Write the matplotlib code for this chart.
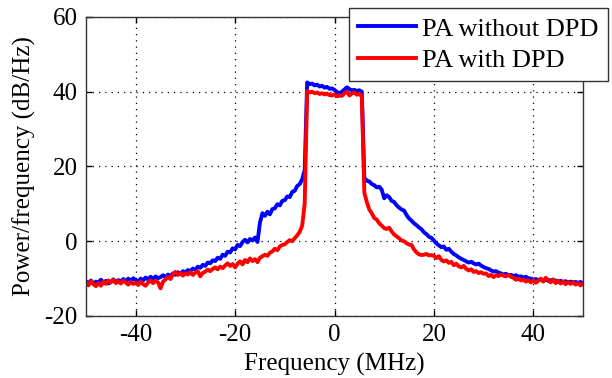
import numpy as np
import matplotlib
matplotlib.use("Agg")
import matplotlib.pyplot as plt

# Frequency grid (MHz), 0.5 MHz spacing
freq = [round(-50 + 0.5 * i, 1) for i in range(201)]

# PA without DPD (dB/Hz)
pa_without_dpd = [
    # -50 .. -40.5
    -10.7, -11.2, -10.5, -11.4, -10.8, -11.0, -10.3, -11.1, -10.6, -11.3,
    -10.9, -10.2, -11.0, -10.4, -10.8, -10.1, -10.7, -10.0, -10.6, -9.9,
    # -40 .. -30.5
    -10.4, -10.8, -10.0, -10.5, -9.7, -10.2, -9.5, -10.1, -9.4, -9.9,
    -9.6, -9.1, -9.6, -8.9, -9.3, -8.6, -9.0, -8.3, -8.7, -8.0,
    # -30 .. -20.5
    -8.4, -7.7, -8.0, -7.3, -7.6, -6.8, -7.1, -6.3, -6.6, -5.7,
    -5.9, -5.1, -5.3, -4.4, -4.7, -3.6, -3.9, -2.8, -3.0, -1.9,
    # -20 .. -10.5
    -2.2, -1.0, -1.3, -0.2, 0.4, -0.3, 0.6, 0.2, 1.0, -0.2,
    5.0, 7.5, 6.8, 7.9, 7.2, 8.6, 8.8, 9.9, 9.6, 10.8,
    # -10 .. -0.5
    11.0, 12.0, 11.8, 13.2, 13.5, 14.8, 15.3, 16.6, 19.0, 42.5,
    42.0, 42.2, 41.7, 41.9, 41.4, 41.6, 41.1, 41.3, 40.8, 40.9,
    # 0 .. 9.5
    40.5, 39.9, 39.6, 40.0, 40.6, 41.2, 40.7, 40.4, 40.5, 40.2,
    40.4, 40.0, 17.0, 16.2, 16.0, 15.3, 15.0, 14.4, 14.6, 13.8,
    # 10 .. 19.5
    11.5, 12.3, 11.8, 10.8, 10.5, 9.6, 9.0, 8.5, 8.2, 7.0,
    6.1, 5.5, 4.8, 4.3, 3.7, 3.2, 2.4, 1.9, 1.2, 0.9,
    # 20 .. 29.5
    0.2, -0.6, -1.1, -1.6, -1.4, -2.3, -2.0, -2.8, -3.4, -3.8,
    -4.3, -4.7, -5.0, -5.4, -5.7, -5.5, -5.9, -6.2, -6.0, -6.5,
    # 30 .. 39.5
    -6.9, -7.2, -7.4, -7.8, -8.1, -8.0, -8.4, -8.6, -8.9, -8.7,
    -9.1, -9.0, -9.3, -9.1, -9.5, -9.4, -9.7, -9.5, -9.9, -10.0,
    # 40 .. 50
    -10.3, -10.1, -10.4, -10.2, -10.5, -10.3, -10.6, -10.4, -10.7, -10.5,
    -10.8, -10.6, -10.9, -10.7, -11.0, -10.8, -11.0, -10.9, -11.1, -10.9,
    -11.2,
]

# PA with DPD (dB/Hz)
pa_with_dpd = [
    # -50 .. -40.5
    -11.0, -11.8, -10.6, -11.5, -12.0, -11.2, -11.9, -10.8, -11.4, -10.5,
    -11.0, -10.3, -11.2, -10.7, -11.3, -10.6, -11.0, -11.6, -10.9, -11.4,
    # -40 .. -30.5
    -11.1, -11.7, -10.8, -11.5, -11.9, -11.0, -10.5, -11.2, -10.6, -11.0,
    -12.6, -10.8, -10.2, -9.6, -10.1, -8.8, -8.2, -9.0, -8.5, -9.2,
    # -30 .. -20.5
    -8.6, -8.9, -8.3, -9.0, -8.4, -8.0, -9.4, -8.5, -8.1, -7.6,
    -8.0, -7.4, -7.0, -7.5, -6.8, -7.2, -6.5, -5.9, -6.6, -6.1,
    # -20 .. -10.5
    -7.0, -6.0, -5.4, -6.2, -5.0, -5.6, -4.6, -5.3, -4.8, -5.6,
    -4.4, -4.0, -3.6, -3.9, -3.1, -2.7, -2.0, -2.4, -1.4, -1.0,
    # -10 .. -0.5
    -0.8, -0.2, 0.3, 0.0, 0.8, 1.6, 2.5, 4.2, 10.0, 40.2,
    39.8, 40.0, 39.6, 39.8, 39.4, 39.6, 39.3, 39.5, 39.1, 39.0,
    # 0 .. 9.5
    39.3, 38.8, 39.0, 38.9, 39.6, 40.0, 39.0, 39.5, 39.8, 39.2,
    39.5, 38.7, 13.0, 10.5, 8.5, 7.5, 6.2, 5.8, 4.8, 4.2,
    # 10 .. 19.5
    3.5, 3.3, 3.6, 2.6, 1.8, 1.3, 0.8, 0.2, 0.0, -0.5,
    -0.9, -1.0, -2.2, -3.0, -3.5, -3.7, -3.6, -3.4, -3.8, -3.7,
    # 20 .. 29.5
    -3.9, -4.5, -4.0, -5.0, -5.4, -5.1, -5.8, -5.5, -6.4, -6.0,
    -6.7, -7.0, -6.6, -7.4, -7.8, -7.5, -8.2, -8.0, -8.5, -8.3,
    # 30 .. 39.5
    -8.7, -8.6, -9.3, -9.0, -9.6, -9.1, -9.3, -8.9, -9.2, -9.4,
    -9.0, -9.5, -9.8, -10.3, -10.0, -10.5, -10.2, -10.8, -10.4, -11.0,
    # 40 .. 50
    -10.5, -11.1, -10.6, -10.0, -10.8, -9.8, -10.4, -11.0, -10.2, -11.2,
    -10.6, -11.3, -10.8, -11.5, -10.9, -11.4, -11.0, -11.6, -11.2, -11.8,
    -11.4,
]

series_labels = ["PA without DPD", "PA with DPD"]
xticks = [-40, -20, 0, 20, 40]
yticks = [-20, 0, 20, 40, 60]

plt.rcParams["font.family"] = ["Liberation Serif", "DejaVu Serif"]
plt.rcParams["axes.unicode_minus"] = False

fig = plt.figure(figsize=(6.12, 3.78), dpi=100)
ax = fig.add_axes([86 / 612, 1 - 316 / 378, (583 - 86) / 612, (316 - 17) / 378])

l1, = ax.plot(freq, pa_without_dpd, color="#0000ff", lw=2.8, label=series_labels[0])
l2, = ax.plot(freq, pa_with_dpd, color="#ff0000", lw=2.8, label=series_labels[1])

ax.set_xlim(-50, 50)
ax.set_ylim(-20, 60)
ax.set_xticks(xticks)
ax.set_yticks(yticks)
ax.tick_params(direction="in", top=True, right=True, labelsize=18, length=4, width=1, pad=6)
ax.grid(True, linestyle=(0, (1, 4)), color="black", linewidth=0.9)
for s in ax.spines.values():
    s.set_linewidth(1.0)
    s.set_color("#333333")

ax.set_xlabel("Frequency (MHz)", fontsize=18, labelpad=5)
ax.set_ylabel("Power/frequency (dB/Hz)", fontsize=18, labelpad=6)

leg = ax.legend(handles=[l1, l2], loc="upper right",
                bbox_to_anchor=(608 / 612, 1 - 8 / 378),
                bbox_transform=fig.transFigure,
                fontsize=19, fancybox=False, framealpha=1, edgecolor="#333333",
                handlelength=2.2, handletextpad=0.25, labelspacing=0.3,
                borderpad=0.35, borderaxespad=0)
leg.get_frame().set_linewidth(1.0)

fig.savefig("out.png", dpi=100)
